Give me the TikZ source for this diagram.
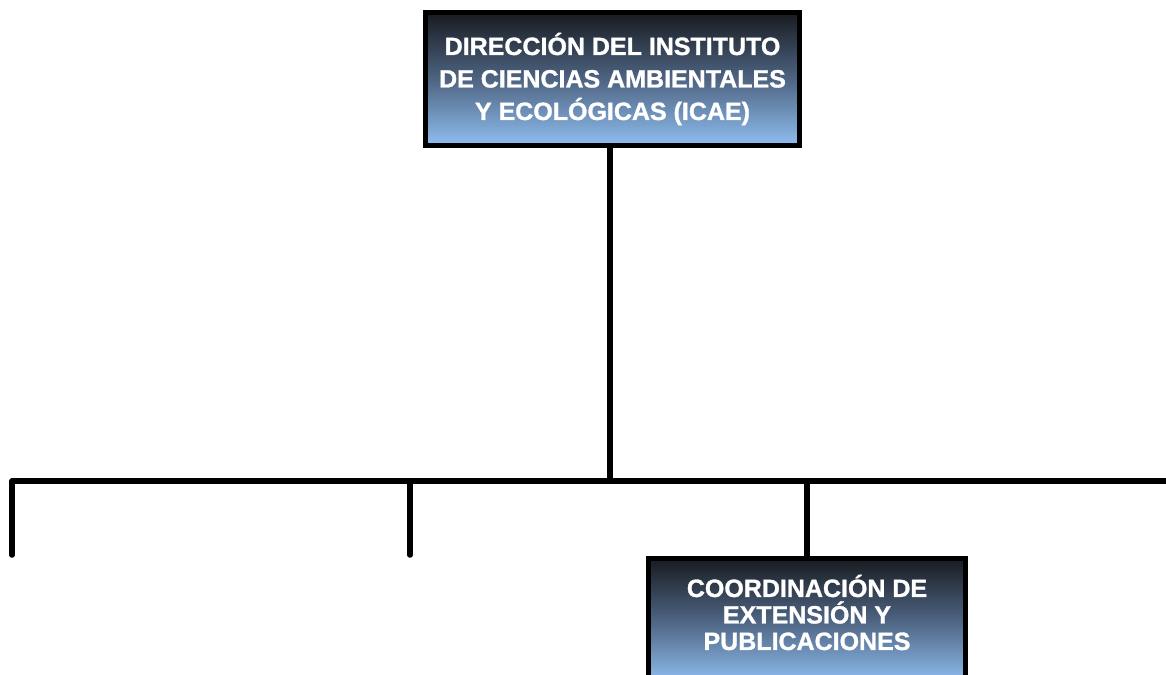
\documentclass[tikz,border=0pt]{standalone}
\usepackage{fontspec}
\setmainfont{Liberation Sans}
\newfontfamily\heavyfont[FakeBold=1.2]{Liberation Sans Bold}
\usetikzlibrary{calc}
\definecolor{gtop}{RGB}{24,27,32}
\definecolor{gmid}{RGB}{78,100,130}
\definecolor{gbot}{RGB}{143,190,240}
\tikzset{
  orgbox/.style={draw=black, line width=5pt, rectangle, top color=gtop, bottom color=gbot, middle color=gmid, text=white, align=center, inner sep=0pt},
  conn/.style={draw=black, line width=5.5pt, line cap=round, line join=round},
  txt/.style={text=white, align=center, inner sep=0pt}
}
\begin{document}
\begin{tikzpicture}[x=1pt,y=-1pt]
\useasboundingbox (0,0) rectangle (1166,674);
% top box
\node (dir) [orgbox, minimum width=374pt, minimum height=133pt,
  font={\heavyfont\fontsize{25}{32.5}\selectfont}] at (612.5,79)
  {DIRECCIÓN DEL INSTITUTO\\ DE CIENCIAS AMBIENTALES\\ Y ECOLÓGICAS (ICAE)};
% bottom box (cut by page edge)
\node (coord) [orgbox, anchor=north, minimum width=317pt, minimum height=125pt] at (807,555.5) {};
\node (coordtxt) [txt, font={\heavyfont\fontsize{25}{26.5}\selectfont}] at ($(coord.north)+(0,57)$)
  {COORDINACIÓN DE\\ EXTENSIÓN Y\\ PUBLICACIONES};
% connectors
\coordinate (bus) at (610,481);
\coordinate (busL) at (12,481);
\coordinate (busR) at (1175,481);
\coordinate (d1) at (12,555);
\coordinate (d2) at (410,555);
\coordinate (j2) at (410,481);
\coordinate (j3) at (807,481);
\draw[conn] (dir.south -| bus) -- (bus);
\draw[conn] (d1) -- (busL) -- (busR);
\draw[conn] (j2) -- (d2);
\draw[conn, line cap=butt] (j3) -- (coord.north);
\end{tikzpicture}
\end{document}
